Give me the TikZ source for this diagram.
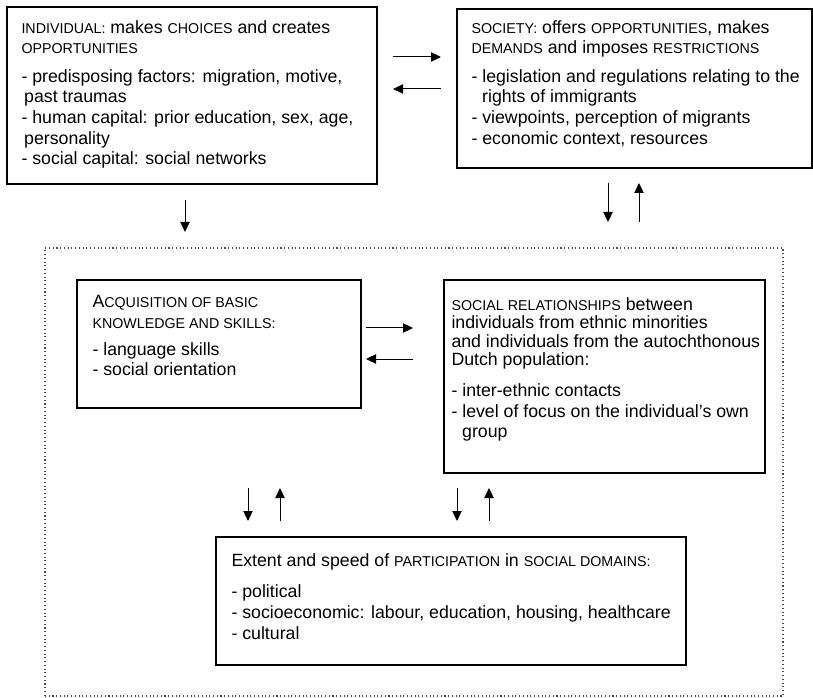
\documentclass[tikz,border=0pt]{standalone}
\usepackage{fontspec}
\setmainfont{Liberation Sans}
\usetikzlibrary{arrows.meta}

\newcommand{\caps}[1]{{\fontsize{10.7}{15}\selectfont #1}}

\tikzset{every picture/.style={line width=0.75pt}}
\tikzset{
  panel/.style={draw, line width=1.2pt, anchor=north west, outer sep=0pt, inner sep=0pt},
  dotbox/.style={draw=black!70, dotted, line width=0.8pt, anchor=north west, outer sep=0pt, inner sep=0pt},
  txt/.style={anchor=north west, inner sep=0pt, align=left, font=\fontsize{13.3}{15.4}\selectfont},
  arr/.style={-{Triangle[length=7.5pt,width=7pt]}, line width=0.75pt},
}

\begin{document}
\begin{tikzpicture}[x=0.75pt,y=0.75pt,yscale=-1,xscale=1]
\useasboundingbox (0,0) rectangle (813,698);

% boxes
\node[panel, minimum width=277.5pt, minimum height=132.75pt] (individual) at (7,7) {};
\node[panel, minimum width=266.25pt, minimum height=119.25pt] (society) at (457,9) {};
\node[dotbox, minimum width=553.5pt, minimum height=336pt] (context) at (45,248) {};
\node[panel, minimum width=213pt, minimum height=96pt] (acquisition) at (77,280) {};
\node[panel, minimum width=240.75pt, minimum height=144.75pt] (relations) at (444,280) {};
\node[panel, minimum width=352.5pt, minimum height=96pt] (participation) at (216,537) {};

% Text Node
\node[txt] (individualtext) at (21,20) {\caps{INDIVIDUAL:} makes \caps{CHOICES} and creates\\
\caps{OPPORTUNITIES}\\[6pt]
- predisposing factors: migration, motive,\\
\hspace*{2pt}past traumas\\
- human capital: prior education, sex, age,\\
\hspace*{2pt}personality\\
- social capital: social networks};
% Text Node
\node[txt] (societytext) at (471,20) {\caps{SOCIETY:} offers \caps{OPPORTUNITIES}, makes\\
\caps{DEMANDS} and imposes \caps{RESTRICTIONS}\\[6pt]
- legislation and regulations relating to the\\
\hspace*{8pt}rights of immigrants\\
- viewpoints, perception of migrants\\
- economic context, resources};
% Text Node
\node[txt] (acquisitiontext) at (92,295) {A\caps{CQUISITION OF BASIC}\\
\caps{KNOWLEDGE AND SKILLS:}\\[5pt]
- language skills\\
- social orientation};
% Text Node
\node[txt, font=\fontsize{13.3}{13.9}\selectfont] (relationstext) at (451,297) {\caps{SOCIAL RELATIONSHIPS} between\\
individuals from ethnic minorities\\
and individuals from the autochthonous\\
Dutch population:\\[9pt]
- inter-ethnic contacts\\[1.5pt]
- level of focus on the individual’s own\\[1.5pt]
\hspace*{8pt}group};
% Text Node
\node[txt, font=\fontsize{13.3}{16}\selectfont] (participationtext) at (231,553) {Extent and speed of \caps{PARTICIPATION} in \caps{SOCIAL DOMAINS:}\\[7pt]
- political\\
- socioeconomic: labour, education, housing, healthcare\\
- cultural};

% Connection
\draw[arr, shorten <=12pt, shorten >=12pt] (individual.east |- 0,57) -- (society.west |- 0,57);
\draw[arr, shorten <=12pt, shorten >=12pt] (society.west |- 0,89) -- (individual.east |- 0,89);
\draw[arr, shorten <=12pt, shorten >=12pt] (individual.south -| 185,0) -- (context.north -| 185,0);
\draw[arr, shorten <=11.25pt, shorten >=19.5pt] (society.south -| 608,0) -- (context.north -| 608,0);
\draw[arr, shorten <=19.5pt, shorten >=11.25pt] (context.north -| 639,0) -- (society.south -| 639,0);
% Connection
\draw[arr, shorten <=3.75pt, shorten >=23.25pt] (acquisition.east |- 0,328) -- (relations.west |- 0,328);
\draw[arr, shorten <=23.25pt, shorten >=3.75pt] (relations.west |- 0,359) -- (acquisition.east |- 0,359);
\draw[arr, shorten <=60pt, shorten >=12pt] (acquisition.south -| 248,0) -- (participation.north -| 248,0);
\draw[arr, shorten <=12pt, shorten >=60pt] (participation.north -| 280,0) -- (acquisition.south -| 280,0);
\draw[arr, shorten <=11.25pt, shorten >=12pt] (relations.south -| 457,0) -- (participation.north -| 457,0);
\draw[arr, shorten <=12pt, shorten >=11.25pt] (participation.north -| 489,0) -- (relations.south -| 489,0);

\end{tikzpicture}
\end{document}
